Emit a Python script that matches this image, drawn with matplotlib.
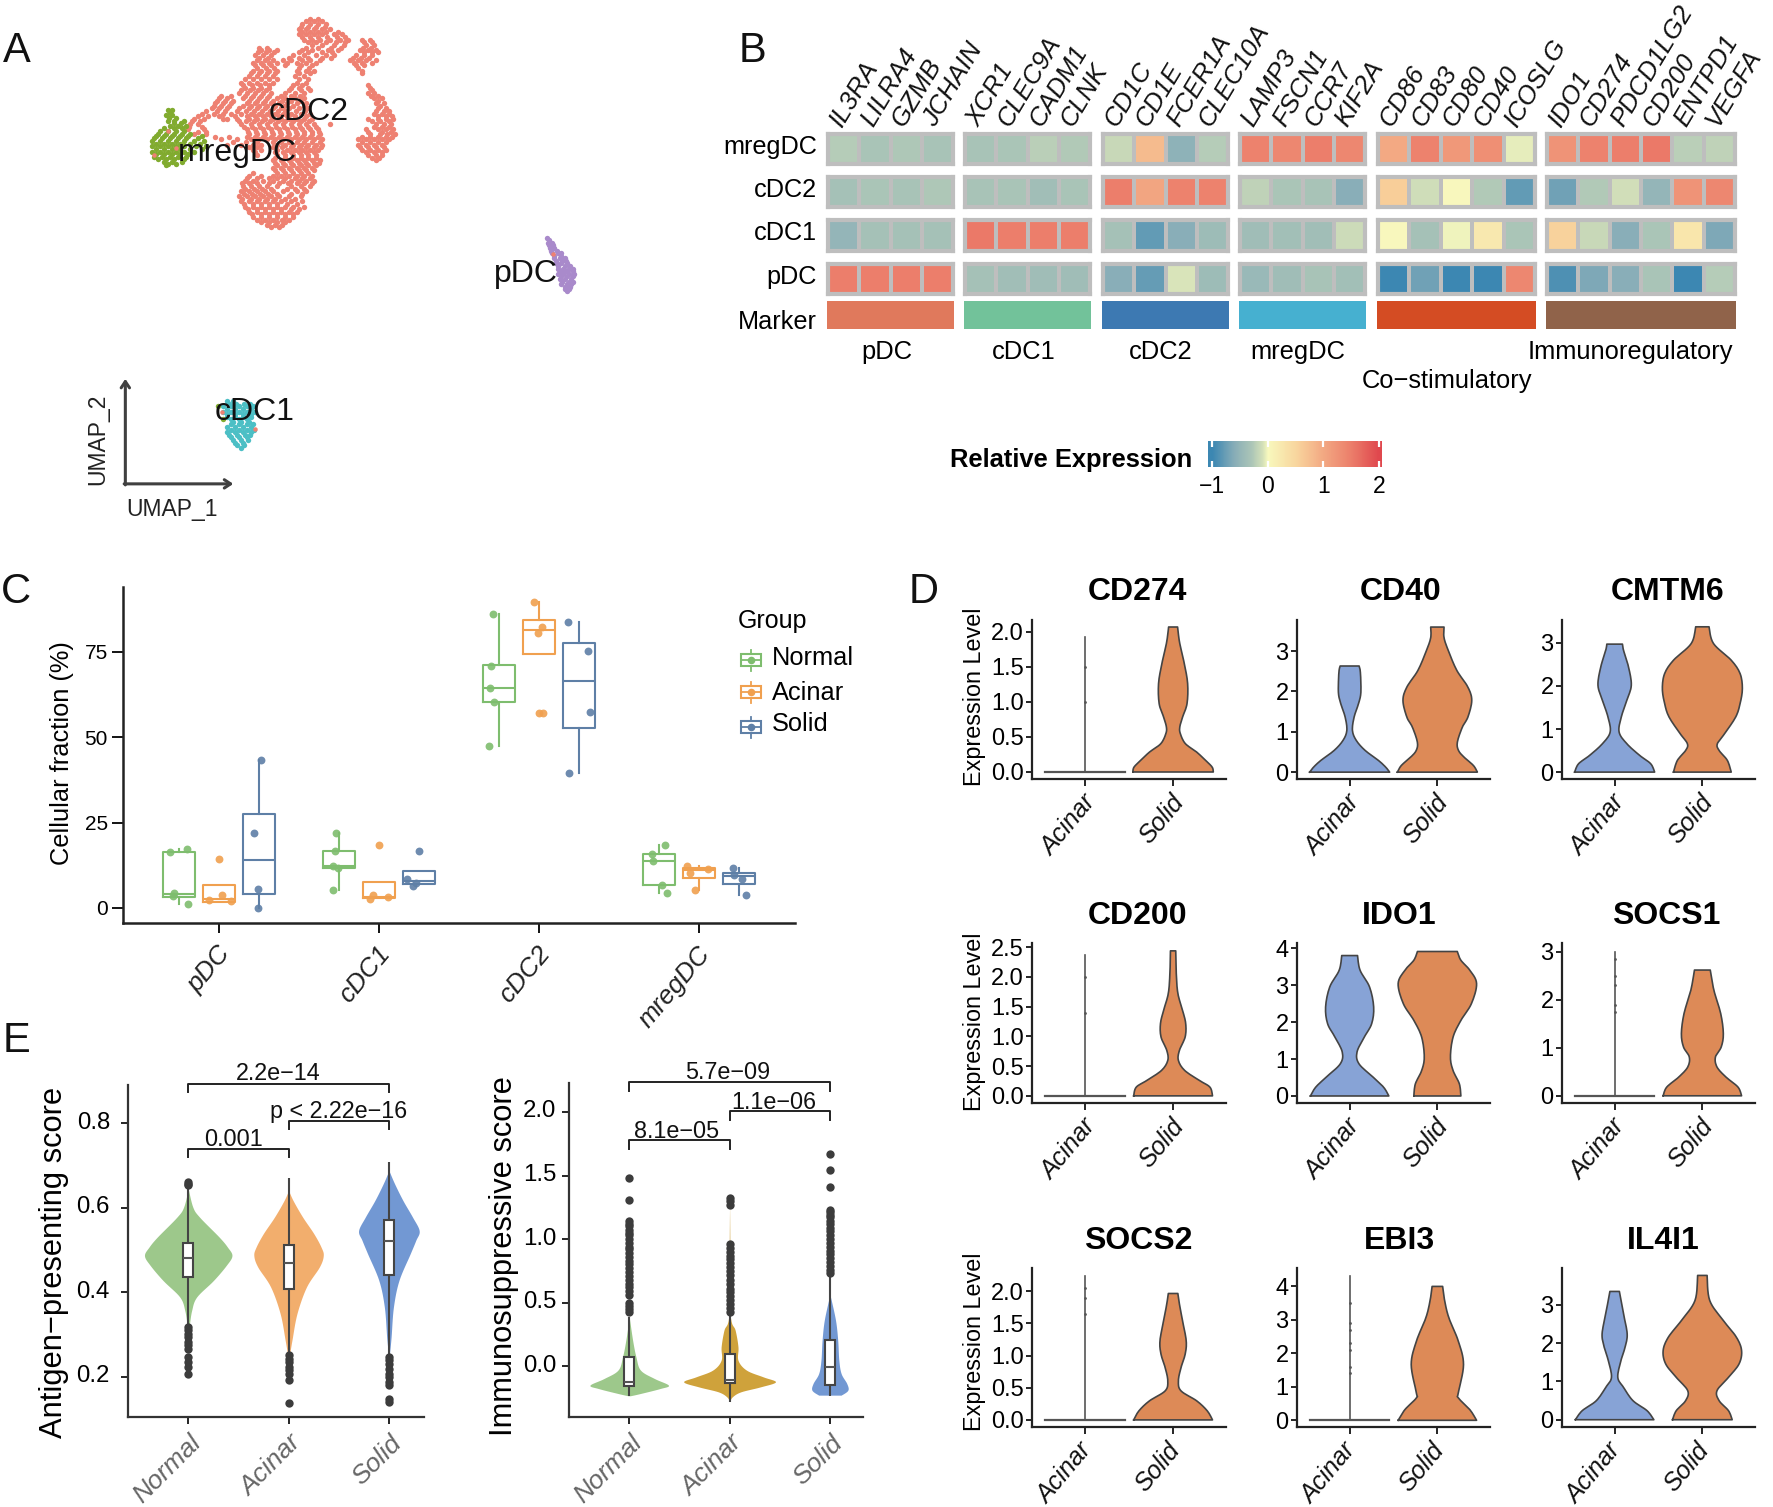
import numpy as np
import matplotlib
matplotlib.use("Agg")
import matplotlib.pyplot as plt
from matplotlib.colors import LinearSegmentedColormap, ListedColormap, Normalize
from matplotlib.transforms import ScaledTranslation

plt.rcParams['font.family'] = ['Liberation Sans', 'DejaVu Sans']
W, H = 1773, 1507
DPI = 100
M = '\u2212'

# ---------- Panel A: UMAP points, rows of (y, xs) ----------
cdc2_rows = [
 (55,[785,805]),(70,[765,785,805,825]),(85,[755,775,795,815,835]),(100,[755,775,795,815,845,865]),
 (115,[770,790,810,835,860,880,915,935]),(130,[790,815,845,870,925,945]),
 (145,[660,680,700,765,790,830,855,910,930,950]),(160,[645,665,685,740,770,800,825,845,900,920,940]),
 (175,[650,670,690,715,735,765,785,810,885,905,925,950]),(190,[645,665,685,720,760,790,900,920]),
 (205,[640,660,680,700,750,775,795,915]),(220,[630,650,670,690,745,770]),
 (240,[610,630,650,670,690,750,775]),(255,[620,640,660,680,735,755,780,935]),
 (270,[605,625,645,665,685,720,745,770,930,945]),(285,[555,575,615,635,655,675,700,720,745,770,945,965]),
 (300,[545,565,585,625,645,665,685,705,725,750,775,950,970]),
 (315,[535,555,575,605,630,650,670,690,710,730,755,780,955,975]),
 (330,[510,540,565,585,610,635,655,675,695,715,735,760,785,945,965,985]),
 (345,[490,515,565,575,600,630,650,670,690,710,730,750,770,790,930,955,975,995]),
 (360,[480,500,610,635,655,675,695,715,735,755,775,795,835,950,970,990]),
 (375,[475,515,625,645,665,685,705,725,745,765,785,805,925,955,975,995]),
 (390,[490,520,630,650,670,690,710,730,750,770,790,810,935,960,980,1000]),
 (405,[560,600,635,655,675,695,715,735,755,775,795,815,905,925,945,965,985]),
 (420,[575,610,640,660,700,720,740,760,780,800,815,905,925,945,965]),
 (435,[640,660,700,725,745,765,785,805,915,935,955,975]),(450,[650,700,720,740,760,780,800,930,950,965]),
 (465,[690,710,730,750,770,790,810,950]),(480,[700,720,740,760,780,800]),(495,[695,715,735,755,775,795]),
 (510,[630,660,690,710,730,750,770,790]),(525,[620,640,665,690,715,735,755,775,795]),
 (540,[615,635,655,675,700,735,760,785]),(555,[610,630,650,670,690,715,750,775]),
 (570,[605,625,645,665,685,705,730,760]),(585,[610,630,650,670,690,710,735,765]),
 (600,[620,640,660,680,700,720,740,770]),(615,[630,650,670,690,710,730,750]),
 (630,[640,660,680,700,720,740]),(645,[660,680,700,720]),(660,[685,705]),
 (62,[775,795,815]),(78,[762,778,798,822]),(92,[765,785,805,825,855]),(108,[765,785,805,828,852,872]),
 (122,[780,800,825,850,872,920,942]),(138,[655,675,775,803,838,862,918,938]),
 (152,[652,672,692,755,780,815,840,920,940,955]),(168,[655,678,730,755,778,815,838,892,912,932]),
 (182,[640,660,680,700,725,750,775,800,895,915,940]),(198,[650,672,692,755,782,905]),
 (212,[635,655,675,695,755,785,915]),(230,[620,640,660,680,700,755,780]),
 (248,[615,638,658,680,742,765,930]),(262,[610,632,652,672,730,760,785,940]),
 (278,[560,585,620,640,660,680,710,735,758,938,955]),(292,[550,570,590,630,650,670,690,712,735,760,955]),
 (308,[540,560,580,615,635,655,675,695,718,742,768,962]),(322,[520,548,570,600,622,642,662,682,702,722,748,772,950,972,985]),
 (338,[500,525,555,595,625,645,665,685,705,725,745,775,955,975,992]),(352,[485,505,605,622,642,662,682,702,722,742,762,782,940,962,985]),
 (368,[478,510,618,638,658,678,698,718,738,758,778,798,945,965,985]),(382,[500,522,628,648,668,688,708,728,748,768,788,808,930,965,990]),
 (398,[545,580,625,645,665,685,705,725,745,765,785,805,915,935,955,975,992]),(412,[590,622,650,690,710,730,750,770,790,810,915,935,955,975]),
 (428,[630,650,690,712,735,755,775,795,812,910,930,950,970]),(442,[645,695,715,735,755,775,795,925,945,965]),
 (458,[695,720,740,760,780,800,940,958]),(472,[695,715,735,755,775,795,808]),(488,[690,710,730,750,770,790]),
 (502,[640,700,720,740,760,780]),(518,[625,650,680,700,722,745,765,785]),(532,[612,630,650,680,705,728,750,770,790]),
 (548,[620,642,662,685,725,745,770]),(562,[618,638,658,678,700,735,765]),(578,[612,635,655,675,695,720,745]),
 (592,[618,640,660,680,700,725,750]),(608,[628,650,670,690,710,735,755]),(622,[638,660,680,700,720,742]),
 (638,[650,670,690,712,730]),(652,[675,695,712]),
]
mreg_rows = [
 (320,[425,435]),(335,[420,435]),(350,[425,440,465]),(365,[430,450,470]),(380,[405,425,445,465]),
 (395,[395,415,435,455,475,510]),(410,[385,405,425,445,465,490,515]),(425,[385,405,425,445,465,495,520]),
 (440,[385,405,425,445,465,490]),(455,[390,410,430,450,470]),(470,[415,435,460]),(480,[420]),
 (328,[430]),(342,[428,445]),(358,[440,458]),(372,[415,440,460]),(388,[400,420,440,460,480]),
 (402,[390,410,430,450,470,500]),(418,[395,415,435,455,480,505]),(432,[395,415,435,455,480,510]),
 (448,[395,415,435,455,475]),(462,[400,420,440,465]),(476,[425,445]),
]
pdc_rows = [
 (690,[1383]),(705,[1385,1395]),(720,[1390,1402]),(735,[1395,1410,1420]),(750,[1400,1415,1428]),
 (765,[1405,1420,1435]),(780,[1410,1425,1440,1450]),(795,[1410,1425,1440,1452]),(810,[1415,1430,1445]),
 (825,[1420,1435,1445]),(840,[1430,1440]),
 (698,[1388]),(712,[1388,1398]),(728,[1393,1408]),(742,[1402,1418]),(758,[1405,1422,1432]),
 (772,[1412,1428,1442]),(788,[1418,1432,1448]),(802,[1418,1435,1450]),(818,[1422,1438,1448]),
 (832,[1428,1442]),(845,[1435]),
]
cdc1_rows = [
 (1165,[575,590]),(1180,[565,585,605,625,640]),(1195,[565,585,605,625,645]),(1210,[575,595,615,635]),
 (1225,[590,610,630]),(1240,[575,595,615,635]),(1255,[575,595,615,635]),(1270,[585,605,625]),
 (1285,[595,615]),(1300,[610]),
 (1172,[578,598,618,632]),(1188,[575,595,615,635]),(1202,[575,595,615,635]),(1218,[585,605,625]),
 (1232,[585,605,625,640]),(1248,[585,605,625,642]),(1262,[580,600,620,632]),(1278,[590,610,628]),(1292,[600,618]),
]
cdc1_stray_green = [(552,1180),(565,1218)]
cdc1_stray_red = [(562,1195),(645,1245)]
mreg_stray_red = [(425,380),(445,430),(390,450),(1398,738)]

# ---------- Panel B ----------
gene_groups = [['IL3RA','LILRA4','GZMB','JCHAIN'],['XCR1','CLEC9A','CADM1','CLNK'],
               ['CD1C','CD1E','FCER1A','CLEC10A'],['LAMP3','FSCN1','CCR7','KIF2A'],
               ['CD86','CD83','CD80','CD40','ICOSLG'],['IDO1','CD274','PDCD1LG2','CD200','ENTPD1','VEGFA']]
group_names = ['pDC','cDC1','cDC2','mregDC','Co'+M+'stimulatory','Immunoregulatory']
row_names = ['mregDC','cDC2','cDC1','pDC']
heat_mreg = [[-.25,-.32,-.28,-.33],[-.33,-.3,-.22,-.27],[-.15,.8,-.55,-.25],[1.45,1.4,1.5,1.4],
             [1.0,1.45,1.2,1.3,-.05],[1.25,1.45,1.5,1.55,-.22,-.2]]
heat_cdc2 = [[-.35,-.3,-.33,-.28],[-.33,-.32,-.38,-.32],[1.5,1.05,1.45,1.45],[-.2,-.3,-.33,-.6],
             [.6,-.12,.02,-.27,-.8],[-.72,-.27,-.1,-.5,1.25,1.4]]
heat_cdc1 = [[-.5,-.35,-.35,-.35],[1.55,1.5,1.5,1.5],[-.35,-.8,-.6,-.42],[-.4,-.37,-.38,-.13],
             [.03,-.35,-.02,.25,-.3],[.55,-.15,-.6,-.3,.28,-.65]]
heat_pdc = [[1.5,1.5,1.5,1.5],[-.35,-.38,-.4,-.4],[-.6,-.78,-.08,-.42],[-.45,-.4,-.33,-.37],
            [-1,-.72,-1,-1,1.4],[-.9,-.65,-.6,-.32,-1,-.25]]
marker_colors = ['#E0795C','#72C29A','#3D79B2','#46B0D0','#D44C23','#90634A']
cbar_ticks = [-1,0,1,2]

# ---------- Panel C: stats (lo whisker, q1, median, q3, hi whisker) ----------
cats_c = ['pDC','cDC1','cDC2','mregDC']
groups = ['Normal','Acinar','Solid']
stats_normal = [(1.3,3.2,4.2,16.5,17.4),(5.2,11.6,12.3,16.7,22.1),(47.3,60.2,64.4,71.1,86.0),(4.4,6.7,13.7,15.9,18.3)]
stats_acinar = [(1.8,1.8,2.7,6.7,6.7),(2.9,2.9,3.2,7.5,7.5),(74.4,74.4,81.4,84.2,89.7),(5.2,8.7,11.1,11.8,12.3)]
stats_solid = [(0,4.2,14,27.5,43.2),(6.9,6.9,7.9,10.8,10.8),(39.5,52.8,66.4,77.5,83.8),(3.7,7.1,9.3,10.3,11.6)]
pts_normal_x = [-.305,-.2,-.28,-.287,-.193, .731,.724,.71,.745,.713, 1.714,1.703,1.693,1.721,1.686, 2.785,2.704,2.711,2.767,2.799]
pts_normal_y = [16.3,17.4,4.4,3.4,1.3, 22.1,16.6,12.3,11.7,5.2, 86,71,64.4,60.3,47.3, 18.3,15.8,13.8,6.7,4.4]
pts_acinar_x = [0,-.063,.018,.078, 1,.962,.941,1.054, 1.967,2.016,1.991,2,2.023, 2.922,2.943,3.055,2.978]
pts_acinar_y = [14.3,2.25,3.9,2.05, 18.3,3.9,2.7,3.2, 89.7,82.4,80.4,57.1,57.1, 12.3,10.3,11.4,5.2]
pts_solid_x = [.26,.218,.246,.243, 1.25,1.177,1.233,1.212, 2.184,2.307,2.318,2.188, 3.21,3.217,3.266,3.294]
pts_solid_y = [43.2,22.1,5.7,0, 16.6,8.6,7.3,6.4, 83.8,75.3,57.4,39.5, 11.6,9.6,8.6,3.7]

# ---------- Panel E: violin outlines, boxes, outliers ----------
e1_normal_v = [.645,.602,.578,.531,.507,.487,.464,.428,.389,.357,.322]
e1_normal_w = [0,.045,.112,.307,.391,.436,.38,.251,.084,.034,.011]
e1_acinar_v = [.641,.617,.578,.539,.507,.487,.46,.413,.35,.287,.255]
e1_acinar_w = [0,.045,.14,.251,.324,.346,.307,.179,.084,.034,.011]
e1_solid_v = [.688,.657,.617,.578,.546,.523,.491,.428,.365,.294,.255]
e1_solid_w = [0,.056,.14,.235,.302,.268,.212,.1,.045,.022,.006]
e1_stats = [(.322,.436,.48,.517,.645),(.255,.408,.47,.513,.67),(.255,.441,.522,.572,.708)]
e1_out_normal = [.66,.657,.653,.318,.31,.302,.294,.283,.275,.267,.247,.235,.224,.206]
e1_out_acinar = [.251,.243,.235,.224,.216,.208,.194,.139]
e1_out_solid = [.247,.239,.231,.22,.208,.2,.188,.18,.149,.141]

e2_normal_v = [.388,.204,.073,-.031,-.097,-.149,-.176,-.215,-.233]
e2_normal_w = [0,.034,.067,.112,.251,.391,.307,.112,.011]
e2_acinar_v = [1.28,.96,.414,.283,.152,.047,-.031,-.084,-.123,-.163,-.202,-.241,-.28]
e2_acinar_w = [0,.003,.006,.056,.084,.084,.168,.335,.458,.307,.112,.028,0]
e2_solid_v = [.545,.362,.204,.047,-.058,-.136,-.189,-.228]
e2_solid_w = [.006,.056,.078,.089,.112,.168,.179,.112]
e2_stats = [(-.233,-.155,-.123,.073,.388),(-.28,-.136,-.11,.094,.414),(-.233,-.149,-.005,.204,.702)]
e2_out_normal = [1.48,1.31,1.14,1.12,1.10,1.07,1.05,1.03,1.0,.97,.94,.92,.89,.86,.83,.80,.77,.74,.71,.68,.65,.62,.59,.56,.50,.47,.45,.43]
e2_out_acinar = [1.32,1.30,1.27,.96,.93,.9,.87,.84,.81,.78,.75,.72,.68,.65,.61,.58,.55,.52,.49,.46,.43]
e2_out_solid = [1.67,1.54,1.41,1.23,1.21,1.19,1.17,1.14,1.12,1.09,1.06,1.03,1.0,.97,.94,.91,.88,.85,.82,.79,.76,.73]

# ---------- Panel D: violin outlines ----------
d_genes = ['CD274','CD40','CMTM6','CD200','IDO1','SOCS1','SOCS2','EBI3','IL4I1']
d_ticks = [[0,.5,1,1.5,2],[0,1,2,3],[0,1,2,3],[0,.5,1,1.5,2,2.5],[0,1,2,3,4],[0,1,2,3],[0,.5,1,1.5,2],[0,1,2,3,4],[0,1,2,3]]
d_ylim = [(-.1,2.17),(-.17,3.77),(-.16,3.53),(-.12,2.57),(-.19,4.14),(-.15,3.18),(-.11,2.36),(-.2,4.55),(-.19,3.96)]
d_acinar_top = {'CD274':1.93,'CD200':2.37,'SOCS1':3.0,'SOCS2':2.24,'EBI3':4.31}
d_acinar_dots = {'CD274':[1.5,1.0],'CD200':[2.0,1.4],'SOCS1':[2.85,2.5,2.3,1.9,1.75],'SOCS2':[2.05,1.9,1.65],'EBI3':[3.5,2.9,2.7,2.3,2.1,1.6,1.4]}
d_acinar_v = {
 'CD40':[0,.124,.289,.537,.785,1.033,1.364,1.694,1.942,2.28,2.525,2.63],
 'CMTM6':[0,.194,.388,.659,.93,1.279,1.667,2.016,2.442,2.829,2.97],
 'IDO1':[0,.235,.507,.869,1.186,1.593,1.955,2.407,2.95,3.403,3.8],
 'IL4I1':[0,.235,.497,.846,1.107,1.543,1.892,2.24,2.764,3.348]}
d_acinar_w = {
 'CD40':[.456,.411,.329,.177,.076,.032,.051,.101,.127,.127,.12,.108],
 'CMTM6':[.456,.411,.285,.139,.051,.076,.139,.19,.158,.101,.089],
 'IDO1':[.447,.388,.269,.107,.084,.167,.251,.274,.227,.119,.09],
 'IL4I1':[.447,.37,.209,.101,.036,.072,.119,.143,.101,.054]}
d_solid_v = {
 'CD274':[0,.07,.167,.286,.405,.548,.643,.786,.976,1.262,1.548,1.833,2.0,2.07],
 'CD40':[0,.165,.372,.537,.744,1.116,1.364,1.777,2.107,2.52,3.0,3.33,3.595],
 'CMTM6':[0,.271,.504,.659,.891,1.279,1.589,1.938,2.287,2.597,2.984,3.372],
 'CD200':[0,.146,.259,.428,.597,.766,.991,1.216,1.441,1.723,2.061,2.438],
 'IDO1':[0,.326,.688,1.05,1.593,2.045,2.498,3.041,3.403,3.674,3.91],
 'SOCS1':[0,.181,.39,.598,.807,1.016,1.294,1.712,2.199,2.617],
 'SOCS2':[0,.14,.295,.451,.606,.813,1.021,1.228,1.539,1.798,1.964],
 'EBI3':[0,.319,.668,.818,1.666,2.364,3.062,3.561,4.0],
 'IL4I1':[0,.235,.497,.759,1.107,1.456,1.805,2.154,2.589,3.112,3.766]}
d_solid_w = {
 'CD274':[.456,.443,.367,.266,.139,.082,.076,.108,.158,.165,.127,.076,.057,.051],
 'CD40':[.456,.411,.304,.241,.228,.285,.348,.392,.348,.222,.127,.076,.076],
 'CMTM6':[.329,.285,.19,.171,.253,.38,.43,.456,.43,.329,.127,.076],
 'CD200':[.447,.418,.298,.131,.06,.072,.137,.143,.107,.054,.036,.03],
 'IDO1':[.268,.251,.179,.149,.179,.268,.388,.447,.37,.268,.227],
 'SOCS1':[.447,.406,.269,.167,.149,.215,.239,.209,.131,.09],
 'SOCS2':[.447,.388,.269,.09,.06,.09,.137,.149,.107,.072,.054],
 'EBI3':[.447,.37,.239,.239,.298,.239,.131,.084,.06],
 'IL4I1':[.34,.298,.191,.167,.298,.418,.447,.388,.239,.084,.054]}

# ---------- helpers ----------
fig = plt.figure(figsize=(W/DPI, H/DPI), dpi=DPI, facecolor='white')

def px_axes(l, t, r, b, **kw):
    return fig.add_axes([l/W, 1-b/H, (r-l)/W, (b-t)/H], **kw)

def outline(v, w, n=8):
    """Catmull-Rom rounding of a violin outline, for drawing only."""
    v = np.asarray(v, float); w = np.asarray(w, float)
    P = np.c_[v, w]
    P = np.vstack([P[0], P, P[-1]])
    out = []
    for i in range(1, len(P)-2):
        for t in np.linspace(0, 1, n, endpoint=False):
            p0, p1, p2, p3 = P[i-1], P[i], P[i+1], P[i+2]
            out.append(.5*((2*p1)+(-p0+p2)*t+(2*p0-5*p1+4*p2-p3)*t**2+(-p0+3*p1-3*p2+p3)*t**3))
    out.append(P[-2])
    out = np.array(out)
    return out[:,0], np.clip(out[:,1], 0, None)

def clean(ax, lw=1.5, color='#222222'):
    for s in ('top','right'):
        ax.spines[s].set_visible(False)
    for s in ('left','bottom'):
        ax.spines[s].set_linewidth(lw); ax.spines[s].set_color(color)

def shift_labels(ax, dx, dy=0):
    tr = ScaledTranslation(dx/DPI, dy/DPI, fig.dpi_scale_trans)
    for l in ax.get_xticklabels():
        l.set_transform(l.get_transform()+tr)

def expand(rows):
    xs = [x for y, r in rows for x in r]
    ys = [y for y, r in rows for x in r]
    return xs, ys

# ---------- A ----------
axA = px_axes(0, 0, 620, 540)
axA.set_xlim(0, 1568); axA.set_ylim(1568, 0); axA.axis('off')
S = 15
for rows, c in [(cdc2_rows,'#EE8172'),(mreg_rows,'#81AB2F'),(pdc_rows,'#A98ACB'),(cdc1_rows,'#4CBFC5')]:
    x, y = expand(rows)
    axA.scatter(x, y, s=S, c=c, linewidths=0)
axA.scatter(*zip(*cdc1_stray_green), s=S, c='#81AB2F', linewidths=0)
axA.scatter(*zip(*cdc1_stray_red), s=S*.7, c='#EE8172', linewidths=0)
axA.scatter(*zip(*mreg_stray_red), s=S*.7, c='#EE8172', linewidths=0)
for t, x, y in [('cDC2',780,324),('mregDC',600,443),('pDC',1330,796),('cDC1',645,1196)]:
    axA.text(x, y, t, fontsize=23, ha='center', va='center', color='#111111')
for xy, xyt in [((317,1100),(317,1408)),((590,1405),(314,1405))]:
    axA.annotate('', xy=xy, xytext=xyt, arrowprops=dict(arrowstyle='->,head_width=.3,head_length=.45', color='#404040', lw=2.2, shrinkA=0, shrinkB=0))
axA.text(435, 1478, 'UMAP_1', fontsize=16.5, ha='center', va='center', color='#222222')
axA.text(246, 1275, 'UMAP_2', fontsize=16.5, ha='center', va='center', rotation=90, color='#222222')

# ---------- B ----------
cm = LinearSegmentedColormap.from_list('rel', [
    (0,'#3C87B2'),(.4/3,'#89AEB8'),(.7/3,'#ABC5B7'),(.9/3,'#D2DFB9'),(1/3,'#F8F9BE'),
    (1.5/3,'#F9D79F'),(2/3,'#F3A983'),(2.5/3,'#EC7F6B'),(1,'#E0484E')])
norm = Normalize(-1, 2)
block_x = [(826,955),(963,1092),(1101,1230),(1238,1367),(1376,1537),(1545,1737)]
row_y = [(132,166),(175,209),(218,253),(262,296)]
rows_heat = [heat_mreg, heat_cdc2, heat_cdc1, heat_pdc]
for ri, (t, b) in enumerate(row_y):
    for bi, (l, r) in enumerate(block_x):
        ax = px_axes(l+2, t+2, r-2, b-2)
        vals = np.array([rows_heat[ri][bi]])
        ax.pcolormesh(vals, cmap=cm, norm=norm, edgecolors='#BEBEBE', linewidth=1.6)
        ax.set_xticks([]); ax.set_yticks([])
        for s in ax.spines.values():
            s.set_color('#BEBEBE'); s.set_linewidth(3)
        if ri == 0:
            for i, g in enumerate(gene_groups[bi]):
                ax.annotate(g, xy=(i+.5, 1), xycoords=ax.get_xaxis_transform(), xytext=(-8, 10),
                            textcoords='offset pixels', rotation=59, rotation_mode='anchor',
                            ha='left', va='center', fontsize=18.5, style='italic', color='#111111')
for bi, (l, r) in enumerate(block_x):
    ax = px_axes(l+1, 301, r-1, 329)
    ax.pcolormesh(np.zeros((1, len(gene_groups[bi]))), cmap=ListedColormap([marker_colors[bi]]), edgecolors='none')
    ax.axis('off')
cax = px_axes(1208, 441, 1382, 467)
grad = np.linspace(-1.07, 2.05, 256)[None, :]
cax.imshow(grad, cmap=cm, norm=norm, aspect='auto', extent=[-1.07, 2.05, 0, 1])
cax.set_yticks([]); cax.set_xticks(cbar_ticks)
cax.set_xticklabels([M+'1','0','1','2'], fontsize=16.5)
cax.tick_params(axis='x', top=True, bottom=True, direction='in', color='white', length=4, width=1.6, pad=6)
for s in cax.spines.values():
    s.set_visible(False)

# ---------- C ----------
axC = px_axes(123, 587, 795, 923)
colsC = ['#7EBD6E','#F0A04F','#5E7FA6']
for gi, (st, px_, py_) in enumerate([(stats_normal,pts_normal_x,pts_normal_y),(stats_acinar,pts_acinar_x,pts_acinar_y),(stats_solid,pts_solid_x,pts_solid_y)]):
    bstats = [dict(whislo=s[0], q1=s[1], med=s[2], q3=s[3], whishi=s[4]) for s in st]
    pos = [i+(gi-1)*.25 for i in range(4)]
    pr = dict(color=colsC[gi], linewidth=1.5)
    axC.bxp(bstats, positions=pos, widths=.2, showfliers=False, showcaps=False, boxprops=pr, whiskerprops=pr, medianprops=pr, manage_ticks=False)
    axC.scatter(px_, py_, s=32, c=colsC[gi], alpha=.9, linewidths=0, zorder=3)
axC.set_xlim(-.6, 3.6); axC.set_ylim(-4.4, 94)
axC.set_yticks([0,25,50,75]); axC.set_xticks(range(4))
axC.set_xticklabels(cats_c, rotation=50, ha='right', va='center', rotation_mode='anchor', fontsize=18.8, style='italic', color='#222222')
axC.tick_params(axis='y', length=8, width=1.3, labelsize=15, pad=3)
axC.tick_params(axis='x', length=7, width=1.3, pad=12)
shift_labels(axC, 7)
clean(axC, 1.8)

# ---------- E ----------
def draw_violins(ax, profiles, cols, stats, outliers):
    for i, ((v, w), c) in enumerate(zip(profiles, cols)):
        yy, ww = outline(v, w)
        ax.fill_betweenx(yy, i-ww, i+ww, color=c, linewidth=0, zorder=1)
        ax.plot([i,i], [stats[i][0], stats[i][4]], color='#444444', lw=1.5, zorder=2, solid_capstyle='butt')
    b = [dict(whislo=s[1], q1=s[1], med=s[2], q3=s[3], whishi=s[3]) for s in stats]
    ax.bxp(b, positions=range(3), widths=.1, showfliers=False, showcaps=False, patch_artist=True,
           boxprops=dict(facecolor='white', edgecolor='#444444', linewidth=1.5),
           whiskerprops=dict(linewidth=0), medianprops=dict(color='#555555', linewidth=1.5),
           manage_ticks=False, zorder=3)
    for i, o in enumerate(outliers):
        ax.scatter([i]*len(o), o, s=36, c='#3C3C3C', linewidths=0, zorder=4)

def draw_bracket(ax, x0, x1, y, tip, label, lx, ly):
    ax.plot([x0,x0,x1,x1], [tip,y,y,tip], color='#222222', lw=1.4, clip_on=False, zorder=5)
    ax.text(lx, ly, label, ha='center', va='center', fontsize=16.8, color='#111111')

def finish_e(ax, ypad):
    ax.set_xticks(range(3))
    ax.set_xticklabels(groups, rotation=45, ha='right', va='center', rotation_mode='anchor', fontsize=19, style='italic', color='#666666')
    ax.tick_params(axis='y', length=5, width=1.2, labelsize=17.3, pad=ypad)
    ax.tick_params(axis='x', length=5, width=1.2, pad=11)
    shift_labels(ax, 9)
    tr = ScaledTranslation(0, 3/DPI, fig.dpi_scale_trans)
    for l in ax.get_yticklabels():
        l.set_transform(l.get_transform()+tr)
    clean(ax, 1.6, '#333333')

axE1 = px_axes(128, 1085, 424, 1417)
draw_violins(axE1, [(e1_normal_v,e1_normal_w),(e1_acinar_v,e1_acinar_w),(e1_solid_v,e1_solid_w)],
             ['#9DC88B','#F2AE6D','#7298D3'], e1_stats, [e1_out_normal,e1_out_acinar,e1_out_solid])
axE1.set_xlim(-.6, 2.35); axE1.set_ylim(.1054, .89); axE1.set_yticks([.2,.4,.6,.8])
finish_e(axE1, 8)
draw_bracket(axE1, 0, 2, .893, .873, '2.2e'+M+'14', .9, .916)
draw_bracket(axE1, 1, 2, .806, .787, 'p < 2.22e'+M+'16', 1.497, .828)
draw_bracket(axE1, 0, 1, .739, .72, '0.001', .447, .761)

axE2 = px_axes(569, 1083, 863, 1417)
draw_violins(axE2, [(e2_normal_v,e2_normal_w),(e2_acinar_v,e2_acinar_w),(e2_solid_v,e2_solid_w)],
             ['#9DC88B','#CFA23B','#7298D3'], e2_stats, [e2_out_normal,e2_out_acinar,e2_out_solid])
axE2.set_xlim(-.6, 2.33); axE2.set_ylim(-.40, 2.228); axE2.set_yticks([0,.5,1,1.5,2])
finish_e(axE2, 4)
draw_bracket(axE2, 0, 2, 2.233, 2.165, '5.7e'+M+'09', .978, 2.31)
draw_bracket(axE2, 1, 2, 2.005, 1.94, '1.1e'+M+'06', 1.441, 2.075)
draw_bracket(axE2, 0, 1, 1.777, 1.709, '8.1e'+M+'05', .475, 1.85)

# ---------- D ----------
col_x = [(1032,1226),(1297,1490),(1562,1755)]
row_t = [(620,779),(943,1103),(1268,1427)]
row_dx = [6, 6, 2]
for k, g in enumerate(d_genes):
    l, r = col_x[k % 3]; t, b = row_t[k // 3]
    ax = px_axes(l, t, r, b)
    if g in d_acinar_v:
        yy, ww = outline(d_acinar_v[g], d_acinar_w[g])
        ax.fill_betweenx(yy, -ww, ww, facecolor='#87A3D6', edgecolor='none')
        ax.plot(np.r_[-ww, ww[::-1], -ww[0]], np.r_[yy, yy[::-1], yy[0]], color='#444444', lw=1.2)
    else:
        ax.plot([-.45,.45], [0,0], color='#555555', lw=1.6)
        ax.plot([0,0], [0,d_acinar_top[g]], color='#555555', lw=1.2)
        ax.scatter([0]*len(d_acinar_dots[g]), d_acinar_dots[g], s=4, c='#555555', linewidths=0)
    yy, ww = outline(d_solid_v[g], d_solid_w[g])
    ax.fill_betweenx(yy, 1-ww, 1+ww, facecolor='#DD8A57', edgecolor='none')
    ax.plot(np.r_[1-ww, 1+ww[::-1], 1-ww[0]], np.r_[yy, yy[::-1], yy[0]], color='#444444', lw=1.2)
    ax.set_xlim(-.6, 1.6); ax.set_ylim(*d_ylim[k])
    ax.set_yticks(d_ticks[k])
    ax.set_yticklabels([(M+f'{v}' if v<0 else (f'{v:.1f}' if any(x%1 for x in d_ticks[k]) else f'{v:d}')) for v in d_ticks[k]])
    ax.set_xticks([0,1])
    ax.set_xticklabels(['Acinar','Solid'], rotation=50, ha='right', va='center', rotation_mode='anchor', fontsize=18, style='italic', color='#111111')
    ax.tick_params(axis='y', length=4, width=1.2, labelsize=17, pad=2)
    ax.tick_params(axis='x', length=5, width=1.2, pad=9)
    shift_labels(ax, row_dx[k // 3])
    clean(ax, 1.6, '#222222')

# ---------- overlay text in pixel coordinates ----------
ov = fig.add_axes([0,0,1,1], facecolor='none')
ov.set_xlim(0, W); ov.set_ylim(H, 0); ov.axis('off')
for t, x, y in [('A',17,50.5),('B',752,50.5),('C',16,592),('D',924,592),('E',17,1040.5)]:
    ov.text(x, y, t, fontsize=30, ha='center', va='center', color='#111111')
for t, (a, b) in zip(row_names, row_y):
    ov.text(817, (a+b)/2-2, t, fontsize=18.2, ha='right', va='center')
ov.text(817, 322, 'Marker', fontsize=18.2, ha='right', va='center')
for t, x, y in zip(group_names, [887,1024,1161,1298,1447,1630], [352,352,352,352,381,352]):
    ov.text(x, y, t, fontsize=18.4, ha='center', va='center')
ov.text(1192, 460, 'Relative Expression', fontsize=18.4, fontweight='bold', ha='right', va='center')
ov.text(62, 753, 'Cellular fraction (%)', fontsize=18.3, rotation=90, ha='center', va='center')
ov.text(738, 621, 'Group', fontsize=18, ha='left', va='center')
for name, c, ty, ky in zip(groups, colsC, [658,693,724], [660,692,727]):
    ov.text(772, ty, name, fontsize=18.3, ha='left', va='center')
    ov.plot([751,751], [ky-10.5,ky+10.5], color=c, lw=1.3)
    ov.add_patch(plt.Rectangle((741,ky-6), 20, 12, facecolor='white', edgecolor=c, lw=1.5, zorder=3))
    ov.plot([741,761], [ky,ky], color=c, lw=1.3, zorder=4)
    ov.scatter([751],[ky], s=30, c=c, linewidths=0, zorder=5)
ov.text(54, 1262, 'Antigen'+M+'presenting score', fontsize=22.2, rotation=90, ha='center', va='center')
ov.text(504, 1256, 'Immunosuppressive score', fontsize=22.2, rotation=90, ha='center', va='center')
for cy in [697, 1022, 1342]:
    ov.text(975, cy, 'Expression Level', fontsize=16.8, rotation=90, ha='center', va='center')
for g, (x, y) in zip(d_genes, [(1137,592),(1401,592),(1668,592),(1138,916),(1399,916),(1666,916),(1138,1241),(1399,1241),(1663,1241)]):
    ov.text(x, y, g, fontsize=23, fontweight='bold', ha='center', va='center')

fig.savefig('out.png', dpi=DPI)
